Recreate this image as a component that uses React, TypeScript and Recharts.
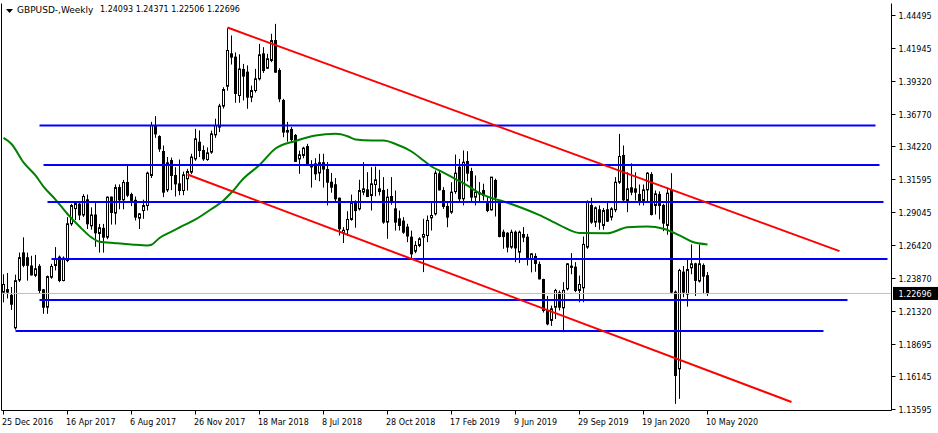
import React from 'react';
import { ComposedChart, Bar, Line, XAxis, YAxis, ReferenceLine } from 'recharts';

const FONT = "'DejaVu Sans', Verdana, sans-serif";
const SMALL = 8;
const TITLE = 9;

const symbolTitle = 'GBPUSD-,Weekly';

const dateLabels = [
  '25 Dec 2016', '16 Apr 2017', '6 Aug 2017', '26 Nov 2017', '18 Mar 2018', '8 Jul 2018',
  '28 Oct 2018', '17 Feb 2019', '9 Jun 2019', '29 Sep 2019', '19 Jan 2020', '10 May 2020',
];
const labelEvery = 16;
const slotCount = 222;

const opens = [
  1.2280, 1.2300, 1.2255, 1.2000, 1.2375, 1.2588, 1.2550, 1.2485, 1.2412, 1.2482,
  1.2298, 1.2162, 1.2397, 1.2489, 1.2554, 1.2371, 1.2528, 1.2816, 1.2935, 1.2970,
  1.2885, 1.3004, 1.2800, 1.2885, 1.2740, 1.2780, 1.2711, 1.3025, 1.2900, 1.3100,
  1.3004, 1.3140, 1.3046, 1.3000, 1.2860, 1.2920, 1.2959, 1.3195, 1.3587, 1.3500,
  1.3383, 1.3082, 1.3312, 1.3195, 1.3129, 1.3077, 1.3169, 1.3221, 1.3325, 1.3456,
  1.3391, 1.3320, 1.3378, 1.3514, 1.3574, 1.3739, 1.3895, 1.4149, 1.4123, 1.3822,
  1.4026, 1.4005, 1.3809, 1.3861, 1.3953, 1.4149, 1.4036, 1.4097, 1.4253, 1.4018,
  1.3783, 1.3535, 1.3556, 1.3509, 1.3325, 1.3352, 1.3422, 1.3270, 1.3286, 1.3215,
  1.3295, 1.3242, 1.3142, 1.3122, 1.3017, 1.2745, 1.2770, 1.2850, 1.2975, 1.2933,
  1.3064, 1.3082, 1.3038, 1.3124, 1.3090, 1.3077, 1.2829, 1.3030, 1.2933, 1.2855,
  1.2837, 1.2790, 1.2711, 1.2601, 1.2646, 1.2711, 1.2724, 1.2863, 1.2894, 1.3208,
  1.3077, 1.2952, 1.2907, 1.3069, 1.3260, 1.3012, 1.3304, 1.3226, 1.3025, 1.3060,
  1.3077, 1.2986, 1.2925, 1.3156, 1.2986, 1.2750, 1.2742, 1.2633, 1.2750, 1.2594,
  1.2732, 1.2711, 1.2541, 1.2560, 1.2497, 1.2379, 1.2136, 1.2058, 1.2162, 1.2275,
  1.2157, 1.2306, 1.2474, 1.2476, 1.2293, 1.2314, 1.2633, 1.2960, 1.2829, 1.2926,
  1.2803, 1.2926, 1.2868, 1.2926, 1.3142, 1.3352, 1.2999, 1.3098, 1.3090, 1.3046,
  1.2999, 1.3082, 1.3202, 1.2960, 1.3046, 1.2960, 1.2803, 1.3077, 1.2280, 1.1679,
  1.2437, 1.2265, 1.2471, 1.2502, 1.2367, 1.2489, 1.24093,
];
const highs = [
  1.2420, 1.2430, 1.2320, 1.2417, 1.2590, 1.2710, 1.2590, 1.2565, 1.2572, 1.2500,
  1.2305, 1.2410, 1.2502, 1.2633, 1.2567, 1.2560, 1.2868, 1.2972, 1.2990, 1.2995,
  1.3048, 1.3045, 1.2945, 1.2978, 1.2815, 1.2815, 1.3030, 1.3030, 1.3125, 1.3125,
  1.3160, 1.3270, 1.3060, 1.3030, 1.2900, 1.3005, 1.3225, 1.3615, 1.3660, 1.3510,
  1.3430, 1.3340, 1.3335, 1.3260, 1.3320, 1.3225, 1.3247, 1.3365, 1.3561, 1.3548,
  1.3430, 1.3415, 1.3547, 1.3640, 1.3757, 1.3887, 1.4350, 1.4293, 1.4160, 1.4145,
  1.4070, 1.4058, 1.3900, 1.4031, 1.4227, 1.4201, 1.4149, 1.4306, 1.4384, 1.4036,
  1.3796, 1.3615, 1.3575, 1.3520, 1.3390, 1.3420, 1.3443, 1.3315, 1.3330, 1.3365,
  1.3365, 1.3300, 1.3215, 1.3175, 1.3020, 1.2790, 1.2915, 1.3045, 1.3000, 1.3161,
  1.3299, 1.3221, 1.3260, 1.3265, 1.3239, 1.3182, 1.3090, 1.3182, 1.3077, 1.2920,
  1.2868, 1.2816, 1.2763, 1.2680, 1.2711, 1.2855, 1.2881, 1.2986, 1.3234, 1.3234,
  1.3103, 1.2986, 1.3142, 1.3359, 1.3325, 1.3391, 1.3385, 1.3255, 1.3195, 1.3143,
  1.3130, 1.3025, 1.3182, 1.3170, 1.3000, 1.2770, 1.2750, 1.2770, 1.2763, 1.2763,
  1.2790, 1.2737, 1.2585, 1.2585, 1.2520, 1.2385, 1.2250, 1.2175, 1.2306, 1.2293,
  1.2358, 1.2507, 1.2586, 1.2515, 1.2410, 1.2716, 1.2999, 1.3020, 1.2952, 1.2960,
  1.2940, 1.2986, 1.2946, 1.3182, 1.3521, 1.3430, 1.3220, 1.3290, 1.3220, 1.3124,
  1.3124, 1.3221, 1.3221, 1.3077, 1.3070, 1.2973, 1.3100, 1.3213, 1.2293, 1.2463,
  1.2485, 1.2545, 1.2654, 1.2510, 1.2654, 1.2505, 1.24371,
];
const lows = [
  1.2200, 1.2230, 1.2140, 1.1986, 1.2360, 1.2475, 1.2370, 1.2410, 1.2398, 1.2267,
  1.2110, 1.2110, 1.2385, 1.2450, 1.2358, 1.2365, 1.2515, 1.2800, 1.2845, 1.2845,
  1.2870, 1.2775, 1.2770, 1.2635, 1.2590, 1.2590, 1.2695, 1.2810, 1.2810, 1.2930,
  1.2930, 1.3025, 1.2955, 1.2842, 1.2775, 1.2855, 1.2920, 1.3175, 1.3490, 1.3380,
  1.3025, 1.3065, 1.3080, 1.3030, 1.3040, 1.3040, 1.3077, 1.3205, 1.3310, 1.3339,
  1.3310, 1.3310, 1.3365, 1.3490, 1.3535, 1.3720, 1.3860, 1.4065, 1.3765, 1.3765,
  1.3783, 1.3718, 1.3770, 1.3845, 1.3940, 1.3999, 1.4031, 1.4084, 1.4000, 1.3770,
  1.3495, 1.3460, 1.3455, 1.3300, 1.3208, 1.3330, 1.3270, 1.3100, 1.3160, 1.3150,
  1.3100, 1.2960, 1.3060, 1.2990, 1.2724, 1.2665, 1.2720, 1.2840, 1.2785, 1.2920,
  1.3040, 1.3025, 1.2920, 1.3032, 1.3038, 1.2816, 1.2698, 1.2965, 1.2763, 1.2763,
  1.2737, 1.2672, 1.2541, 1.2585, 1.2633, 1.2437, 1.2672, 1.2763, 1.2881, 1.3077,
  1.2933, 1.2789, 1.2894, 1.3051, 1.2986, 1.2960, 1.3150, 1.2994, 1.2960, 1.2986,
  1.2999, 1.2907, 1.2920, 1.2873, 1.2710, 1.2620, 1.2592, 1.2620, 1.2515, 1.2508,
  1.2672, 1.2489, 1.2435, 1.2440, 1.2380, 1.2120, 1.2020, 1.2015, 1.2070, 1.2136,
  1.1966, 1.2293, 1.2420, 1.2280, 1.2200, 1.2201, 1.2620, 1.2816, 1.2790, 1.2770,
  1.2770, 1.2830, 1.2842, 1.2907, 1.3129, 1.2986, 1.2907, 1.3040, 1.2999, 1.2960,
  1.2960, 1.2986, 1.2881, 1.2889, 1.2850, 1.2758, 1.2730, 1.2267, 1.1404, 1.1443,
  1.2240, 1.2166, 1.2420, 1.2250, 1.2355, 1.2265, 1.22506,
];
const closes = [
  1.2340, 1.2280, 1.2185, 1.2370, 1.2550, 1.2490, 1.2490, 1.2415, 1.2463, 1.2293,
  1.2162, 1.2402, 1.2481, 1.2541, 1.2371, 1.2546, 1.2816, 1.2959, 1.2975, 1.2885,
  1.3030, 1.2816, 1.2885, 1.2745, 1.2785, 1.2711, 1.3025, 1.2905, 1.3100, 1.3004,
  1.3140, 1.3040, 1.3000, 1.2868, 1.2894, 1.2959, 1.3213, 1.3587, 1.3521, 1.3404,
  1.3064, 1.3294, 1.3195, 1.3129, 1.3077, 1.3200, 1.3226, 1.3339, 1.3482, 1.3391,
  1.3325, 1.3372, 1.3521, 1.3587, 1.3739, 1.3869, 1.4175, 1.4123, 1.3838, 1.4030,
  1.3974, 1.3809, 1.3861, 1.3953, 1.4141, 1.4018, 1.4110, 1.4253, 1.4005, 1.3796,
  1.3535, 1.3548, 1.3477, 1.3305, 1.3357, 1.3409, 1.3286, 1.3262, 1.3208, 1.3295,
  1.3245, 1.3142, 1.3103, 1.3012, 1.2777, 1.2765, 1.2850, 1.2980, 1.2920, 1.3077,
  1.3090, 1.3030, 1.3129, 1.3161, 1.3069, 1.2829, 1.3025, 1.2986, 1.2829, 1.2803,
  1.2750, 1.2720, 1.2580, 1.2646, 1.2698, 1.2732, 1.2842, 1.2881, 1.3213, 1.3082,
  1.2952, 1.2868, 1.3064, 1.3213, 1.3012, 1.3299, 1.3213, 1.3025, 1.3064, 1.3050,
  1.3038, 1.2920, 1.3182, 1.3025, 1.2716, 1.2716, 1.2633, 1.2750, 1.2627, 1.2750,
  1.2711, 1.2541, 1.2580, 1.2505, 1.2384, 1.2136, 1.2031, 1.2149, 1.2293, 1.2162,
  1.2293, 1.2502, 1.2484, 1.2293, 1.2340, 1.2654, 1.2991, 1.2829, 1.2941, 1.2829,
  1.2920, 1.2837, 1.2933, 1.3142, 1.3344, 1.3004, 1.3090, 1.3064, 1.3064, 1.2999,
  1.3082, 1.3213, 1.2889, 1.3051, 1.2960, 1.2821, 1.3056, 1.2280, 1.1626, 1.2450,
  1.2280, 1.2457, 1.2502, 1.2372, 1.2502, 1.2405, 1.22696,
];

// moving average at these weeks
const maWeek = [
  0, 2, 5, 8, 10, 13, 16, 19, 22, 24, 28, 32, 36, 37, 39, 42, 44, 48, 52, 55,
  57, 60, 64, 68, 73, 78, 83, 86, 88, 92, 95, 98, 102, 105, 107, 110, 113, 116, 119, 122,
  125, 129, 134, 139, 144, 151, 156, 161, 165, 169, 172, 176,
];
const maPrice = [
  1.3489, 1.3442, 1.3297, 1.3195, 1.3108, 1.3006, 1.2893, 1.2795, 1.2709, 1.2675,
  1.2664, 1.2654, 1.2646, 1.2652, 1.2705, 1.2755, 1.2787, 1.2850, 1.2932, 1.2999,
  1.3061, 1.3171, 1.3277, 1.3406, 1.3465, 1.3508, 1.3522, 1.3503, 1.3477, 1.3469,
  1.3469, 1.3442, 1.3383, 1.3312, 1.3265, 1.3218, 1.3167, 1.3116, 1.3056, 1.3018,
  1.2991, 1.2948, 1.2884, 1.2806, 1.2744, 1.2742, 1.2789, 1.2795, 1.2777, 1.2725,
  1.2677, 1.2654,
];

const priceTicks = [
  1.44495, 1.41945, 1.39320, 1.36770, 1.34220, 1.31595, 1.29045,
  1.26420, 1.23870, 1.21320, 1.18695, 1.16145, 1.13595,
];
const priceMin = 1.13517;
const priceMax = 1.45436;

// horizontal support / resistance levels
const levelPrice = [1.3587, 1.3277, 1.2987, 1.2540, 1.2218, 1.1975];
const levelFrom = [9, 10, 11, 12, 9, 3];
const levelTo = [218, 219, 220, 221, 211, 205];

// descending channel
const channelFromWeek = [56, 46];
const channelFromPrice = [1.4355, 1.3203];
const channelToWeek = [209, 197];
const channelToPrice = [1.2602, 1.1418];

const lastIdx = closes.length - 1;
const lastPrice = closes[lastIdx];

const data = Array.from({ length: slotCount }, (_, i) => {
  const row: any = { i };
  if (i < opens.length) {
    row.o = opens[i];
    row.h = highs[i];
    row.l = lows[i];
    row.c = closes[i];
    row.range = [lows[i], highs[i]];
  }
  const k = maWeek.indexOf(i);
  if (k >= 0) row.ma = maPrice[k];
  return row;
});

const Candle = (props: any) => {
  const { x, y, width, height, payload } = props;
  if (!payload || payload.o == null) return null;
  const top = Math.min(y, y + height);
  const h = Math.abs(height);
  const span = payload.h - payload.l;
  const k = span > 0 ? h / span : 0;
  const yOf = (p: number) => top + (payload.h - p) * k;
  const cx = x + width / 2;
  const yo = yOf(payload.o);
  const yc = yOf(payload.c);
  const bull = payload.c >= payload.o;
  const bt = Math.min(yo, yc);
  const bb = Math.max(yo, yc);
  return (
    <g>
      <line x1={cx} x2={cx} y1={top} y2={top + h} stroke="#000" strokeWidth={1} />
      {bull ? (
        <rect x={cx - 1} y={bt} width={2} height={Math.max(bb - bt, 1)} fill="#fff" stroke="#000" strokeWidth={1} />
      ) : (
        <rect x={cx - 1.5} y={bt - 0.5} width={3} height={Math.max(bb - bt + 1, 1)} fill="#000" />
      )}
    </g>
  );
};

const DateTick = (props: any) => {
  const { x, y, payload } = props;
  const i = Number(payload.value);
  if (i % labelEvery !== 0 || i / labelEvery >= dateLabels.length) return null;
  return (
    <g>
      <line x1={x} x2={x} y1={y} y2={y + 4} stroke="#000" strokeWidth={1} />
      <text x={x - 1.5} y={y + 14.5} fontSize={SMALL} fontFamily={FONT} fill="#000" textAnchor="start">
        {dateLabels[i / labelEvery]}
      </text>
    </g>
  );
};

const PriceTick = (props: any) => {
  const { x, y, payload } = props;
  const yy = Math.round(y - 0.5) + 0.5;
  return (
    <g>
      <line x1={x} x2={x + 4} y1={yy} y2={yy} stroke="#000" strokeWidth={1} />
      <text x={x + 7} y={y + 3.5} fontSize={SMALL} fontFamily={FONT} fill="#000" textAnchor="start">
        {Number(payload.value).toFixed(5)}
      </text>
    </g>
  );
};

const PriceTag = (lp: any) => {
  const vb = lp.viewBox || {};
  const x = (vb.x || 0) + (vb.width || 0);
  const y = vb.y || 0;
  return (
    <g>
      <rect x={x + 1.5} y={y - 6.5} width={45} height={13} fill="#000" />
      <text x={x + 7} y={y + 3.5} fontSize={SMALL} fontFamily={FONT} fill="#fff">
        {lastPrice.toFixed(5)}
      </text>
    </g>
  );
};

export default function App() {
  const fmt = (v: number) => v.toFixed(5);
  return (
    <div style={{ position: 'absolute', left: 0, top: 0, width: 938, height: 433, background: '#fff' }}>
      <ComposedChart
        width={938}
        height={433}
        data={data}
        margin={{ top: 3.5, right: 0, bottom: 0, left: 0 }}
        barCategoryGap={0}
        barGap={0}
      >
        <XAxis
          dataKey="i"
          type="category"
          interval={0}
          height={22.5}
          tickSize={0}
          tickMargin={0}
          tickLine={false}
          axisLine={{ stroke: '#000' }}
          tick={DateTick}
          padding={{ left: 0, right: 2 }}
        />
        <XAxis
          xAxisId="top"
          orientation="top"
          dataKey="i"
          type="category"
          height={0}
          tick={false}
          tickLine={false}
          axisLine={{ stroke: '#000' }}
          padding={{ left: 0, right: 2 }}
        />
        <YAxis
          orientation="right"
          type="number"
          domain={[priceMin, priceMax]}
          allowDataOverflow
          ticks={priceTicks}
          interval={0}
          width={46.5}
          tickSize={0}
          tickMargin={0}
          tickLine={false}
          axisLine={{ stroke: '#000' }}
          tick={PriceTick}
        />
        <YAxis
          yAxisId="frame"
          orientation="left"
          type="number"
          domain={[0, 1]}
          width={1.5}
          tick={false}
          tickLine={false}
          axisLine={{ stroke: '#000' }}
        />
        <ReferenceLine y={lastPrice} stroke="#c0c0c0" strokeWidth={1} label={PriceTag} />
        <Bar dataKey="range" shape={(p: any) => <Candle {...p} />} isAnimationActive={false} />
        <Line
          dataKey="ma"
          type="monotone"
          stroke="#008000"
          strokeWidth={2}
          dot={false}
          activeDot={false}
          connectNulls
          isAnimationActive={false}
        />
        {levelPrice.map((p, k) => (
          <ReferenceLine
            key={'lv' + k}
            segment={[{ x: levelFrom[k], y: p }, { x: levelTo[k], y: p }]}
            stroke="#0000ff"
            strokeWidth={2}
          />
        ))}
        {channelFromWeek.map((w, k) => (
          <ReferenceLine
            key={'ch' + k}
            segment={[{ x: w, y: channelFromPrice[k] }, { x: channelToWeek[k], y: channelToPrice[k] }]}
            stroke="#ff0000"
            strokeWidth={2}
          />
        ))}
      </ComposedChart>
      <svg style={{ position: 'absolute', left: 6, top: 9 }} width={7} height={4}>
        <polygon points="0,0 7,0 3.5,4" fill="#000" />
      </svg>
      <div
        style={{
          position: 'absolute',
          left: 17,
          top: 4,
          fontFamily: FONT,
          fontSize: TITLE,
          lineHeight: '12px',
          color: '#000',
          whiteSpace: 'pre',
        }}
      >
        {symbolTitle}
      </div>
      <div
        style={{
          position: 'absolute',
          left: 100,
          top: 4,
          fontFamily: FONT,
          fontSize: SMALL,
          lineHeight: '12px',
          color: '#000',
          whiteSpace: 'pre',
        }}
      >
        {[opens[lastIdx], highs[lastIdx], lows[lastIdx], closes[lastIdx]].map(fmt).join(' ')}
      </div>
    </div>
  );
}
